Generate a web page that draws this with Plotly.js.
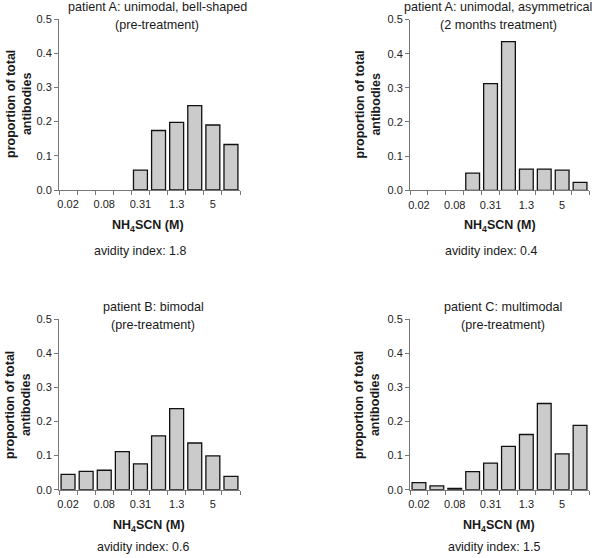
<!DOCTYPE html>
<html>
<head>
<meta charset="utf-8">
<script src="https://cdn.plot.ly/plotly-3.0.1.min.js"></script>
<style>html,body{margin:0;padding:0;background:#fff;}#chart{width:592px;height:558px;}</style>
</head>
<body>
<div id="chart"></div>
<script>
// NH4SCN concentration categories (M)
const categories = ["0.02","0.04","0.08","0.16","0.31","0.63","1.3","2.5","5","10"];
const tickLabels = ["0.02","","0.08","","0.31","","1.3","","5",""];

const patientAPre   = [0, 0, 0, 0, 0.058, 0.174, 0.198, 0.247, 0.190, 0.133];
const patientA2m    = [0, 0, 0, 0.050, 0.312, 0.435, 0.062, 0.062, 0.059, 0.023];
const patientBPre   = [0.045, 0.054, 0.057, 0.112, 0.076, 0.158, 0.238, 0.137, 0.099, 0.039];
const patientCPre   = [0.021, 0.011, 0.004, 0.053, 0.078, 0.127, 0.162, 0.253, 0.105, 0.189];

const panelTitles1 = ["patient A: unimodal, bell-shaped", "patient A: unimodal, asymmetrical", "patient B: bimodal", "patient C: multimodal"];
const panelTitles2 = ["(pre-treatment)", "(2 months treatment)", "(pre-treatment)", "(pre-treatment)"];
const avidity = ["avidity index: 1.8", "avidity index: 0.4", "avidity index: 0.6", "avidity index: 1.5"];
const yTitle = "proportion of total<br>antibodies";
const xTitle = "NH<sub>4</sub>SCN (M)";

const W = 592, H = 558;
const px = v => v / W;
const py = v => 1 - v / H;
const FONT = "Liberation Sans, Arial, sans-serif";

const series = [patientAPre, patientA2m, patientBPre, patientCPre];
const traces = series.map((vals, i) => ({
  type: "bar",
  x: categories,
  y: vals,
  xaxis: i === 0 ? "x" : "x" + (i + 1),
  yaxis: i === 0 ? "y" : "y" + (i + 1),
  marker: {color: "#cbcbcb", line: {color: "#111", width: vals.map(v => v > 0 ? 1.3 : 0)}},
  hoverinfo: "x+y",
  showlegend: false
}));

// plot-area geometry (pixels)
const panels = [
  {x0: 59, x1: 240, yTop: 19, yBot: 190},
  {x0: 410, x1: 589, yTop: 19.5, yBot: 190.3},
  {x0: 59, x1: 240, yTop: 319.3, yBot: 489.7},
  {x0: 410, x1: 589, yTop: 319.3, yBot: 489.7}
];

function xAxis(p, anchor) {
  return {
    domain: [px(p.x0), px(p.x1)], anchor: anchor, type: "category",
    range: [-0.5, categories.length - 0.5],
    tickmode: "array", tickvals: categories, ticktext: tickLabels,
    tickson: "boundaries", ticks: "outside", ticklen: 4, tickcolor: "#777",
    tickangle: 0, ticklabelstandoff: 4,
    showline: true, linecolor: "#777", linewidth: 1,
    showgrid: false, zeroline: false,
    tickfont: {family: FONT, size: 11, color: "#222"}, fixedrange: true
  };
}
function yAxis(p, anchor) {
  return {
    domain: [py(p.yBot), py(p.yTop)], anchor: anchor,
    range: [0, 0.5], tickmode: "linear", tick0: 0, dtick: 0.1, tickformat: ".1f",
    ticks: "outside", ticklen: 4, tickcolor: "#777",
    showline: true, linecolor: "#777", linewidth: 1,
    showgrid: false, zeroline: false,
    tickfont: {family: FONT, size: 11, color: "#222"}, fixedrange: true
  };
}

const layout = {
  width: W, height: H,
  margin: {l: 0, r: 0, t: 0, b: 0},
  paper_bgcolor: "#fff", plot_bgcolor: "#fff",
  bargap: 0.23,
  font: {family: FONT, color: "#222"},
  xaxis: xAxis(panels[0], "y"), yaxis: yAxis(panels[0], "x"),
  xaxis2: xAxis(panels[1], "y2"), yaxis2: yAxis(panels[1], "x2"),
  xaxis3: xAxis(panels[2], "y3"), yaxis3: yAxis(panels[2], "x3"),
  xaxis4: xAxis(panels[3], "y4"), yaxis4: yAxis(panels[3], "x4"),
  annotations: []
};

// text positions (pixels)
const txt = [
  {t1: [157, 7.5], t2: [156.5, 24.5], yt: [19, 104], xt: [147.5, 226], av: [140, 251]},
  {t1: [497.5, 7.5], t2: [498, 24.5], yt: [367.5, 104], xt: [500, 226], av: [491, 250.5]},
  {t1: [153, 307], t2: [153, 324.5], yt: [18, 405], xt: [149, 526], av: [143, 547]},
  {t1: [503, 307], t2: [503, 324.5], yt: [367, 405], xt: [499, 526], av: [494, 547]}
];
function ann(text, pos, size, bold, angle) {
  return {
    text: bold ? "<b>" + text + "</b>" : text,
    x: px(pos[0]), y: py(pos[1]), xref: "paper", yref: "paper",
    xanchor: "center", yanchor: "middle", showarrow: false,
    textangle: angle || 0,
    font: {family: FONT, size: size, color: "#1a1a1a"}
  };
}
txt.forEach((t, i) => {
  layout.annotations.push(ann(panelTitles1[i], t.t1, 12.6, false));
  layout.annotations.push(ann(panelTitles2[i], t.t2, 12.6, false));
  layout.annotations.push(ann(yTitle, t.yt, 12.5, true, -90));
  layout.annotations.push(ann(xTitle, t.xt, 12.5, true));
  layout.annotations.push(ann(avidity[i], t.av, 12.4, false));
});

Plotly.newPlot("chart", traces, layout, {staticPlot: true, displayModeBar: false});
</script>
</body>
</html>
